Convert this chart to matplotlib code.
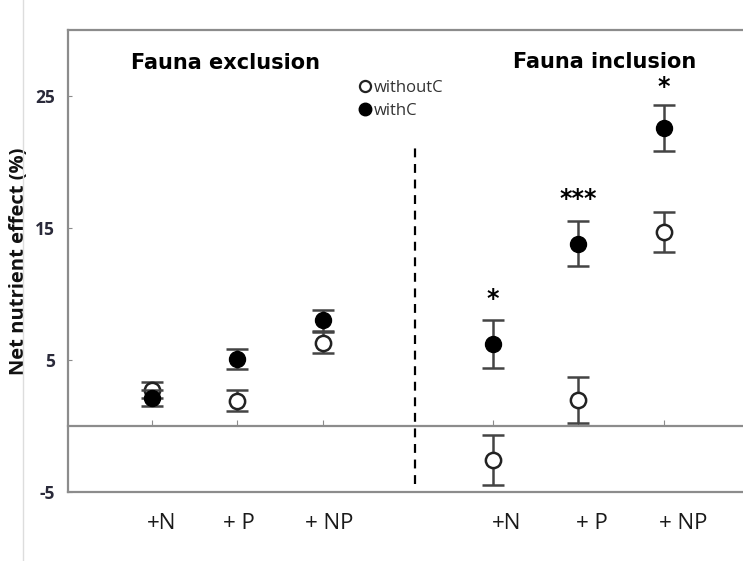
"""Net nutrient effect with and without C, fauna exclusion vs inclusion."""

import matplotlib
matplotlib.use("Agg")
import matplotlib.pyplot as plt
from matplotlib.lines import Line2D
from matplotlib.transforms import ScaledTranslation

plt.rcParams["axes.unicode_minus"] = False

# treatment labels and positions (two groups, gap at 4)
labels = ["+N", "+ P", "+ NP", "+N", "+ P", "+ NP"]
xpos = [1, 2, 3, 5, 6, 7]

# mean net nutrient effect (%) and standard errors
without_c = [2.7, 1.9, 6.3, -2.6, 2.0, 14.7]
without_c_err = [0.6, 0.8, 0.8, 1.9, 1.75, 1.55]
with_c = [2.1, 5.1, 8.0, 6.2, 13.8, 22.6]
with_c_err = [0.6, 0.75, 0.8, 1.8, 1.7, 1.75]

# significance marks over the fauna inclusion treatments
sig_x = [5, 6, 7]
sig_y = [8.7, 16.3, 24.8]
sig_text = ["*", "***", "*"]

# horizontal nudge of each category label, in points
label_shift = [7, 1, 5, 10, 10, 14]

FRAME = "#8c8c8c"

fig = plt.figure(figsize=(7.43, 5.61), dpi=100)
ax = fig.add_axes([0.0915, 0.123, 0.9085, 0.8235])

ax.set_xlim(0.016, 7.93)
ax.set_ylim(-5, 30)

for side in ("left", "top", "bottom"):
    ax.spines[side].set_color(FRAME)
    ax.spines[side].set_linewidth(1.6)
ax.spines["right"].set_visible(False)

ax.set_yticks([-5, 5, 15, 25])
ax.tick_params(axis="y", direction="in", length=3, color=FRAME,
               labelsize=12.5, labelcolor="#2a2a3a", pad=9.5)
for lab in ax.get_yticklabels():
    lab.set_fontfamily("Open Sans")
    lab.set_fontweight("bold")

# category labels on the bottom axis, no tick marks there
ax.set_xticks(xpos)
ax.set_xticklabels(labels, fontfamily="Open Sans", fontsize=16, color="#1a1a1a")
ax.tick_params(axis="x", length=0, pad=15)
for lab, dx in zip(ax.get_xticklabels(), label_shift):
    lab.set_transform(lab.get_transform() + ScaledTranslation(dx / 72, 0, fig.dpi_scale_trans))

# zero line with small upward ticks at each treatment
zero = ax.secondary_xaxis(5 / 35)
zero.spines["bottom"].set_color(FRAME)
zero.spines["bottom"].set_linewidth(1.6)
zero.set_xticks(xpos)
zero.tick_params(direction="in", length=4, color=FRAME, labelbottom=False)

ax.set_ylabel("Net nutrient effect (%)", fontfamily="Open Sans", fontweight="bold",
              fontsize=14.5, color="#111111")
ax.yaxis.set_label_coords(-0.058, 0.5)

ax.errorbar(xpos, without_c, yerr=without_c_err, fmt="o", ms=11, mfc="white",
            mec="#222222", mew=1.8, ecolor="#444444", elinewidth=1.8,
            capsize=8, capthick=1.8, zorder=3)
ax.errorbar(xpos, with_c, yerr=with_c_err, fmt="o", ms=11.5, mfc="black",
            mec="black", ecolor="#444444", elinewidth=1.8,
            capsize=8, capthick=1.8, zorder=4)

for x, y, s in zip(sig_x, sig_y, sig_text):
    ax.text(x, y, s, ha="center", va="bottom", fontsize=17, fontweight="bold",
            fontfamily="DejaVu Sans")

# divider between the two fauna treatments
ax.plot([4.08, 4.08], [-4.4, 21.2], ls=(0, (4, 3)), color="black", lw=1.6)

ax.text(1.86, 27.5, "Fauna exclusion", ha="center", va="center", fontsize=15,
        fontweight="bold", fontfamily="DejaVu Sans")
ax.text(6.31, 27.55, "Fauna inclusion", ha="center", va="center", fontsize=15,
        fontweight="bold", fontfamily="DejaVu Sans")

handles = [
    Line2D([], [], ls="", marker="o", ms=8, mfc="white", mec="#222222", mew=1.6),
    Line2D([], [], ls="", marker="o", ms=9, mfc="black", mec="black"),
]
ax.legend(handles, ["withoutC", "withC"], loc="upper left",
          bbox_to_anchor=(0.432, 0.892), frameon=False, handlelength=0.6,
          handletextpad=0.25, labelspacing=0.42, borderaxespad=0, borderpad=0,
          prop={"family": "Open Sans", "size": 12}, labelcolor="#333333")

# faint outer border on the left
fig.add_artist(Line2D([0.031, 0.031], [0, 1], transform=fig.transFigure,
                      color="#dddddd", lw=1))

fig.savefig("out.png", dpi=100)
